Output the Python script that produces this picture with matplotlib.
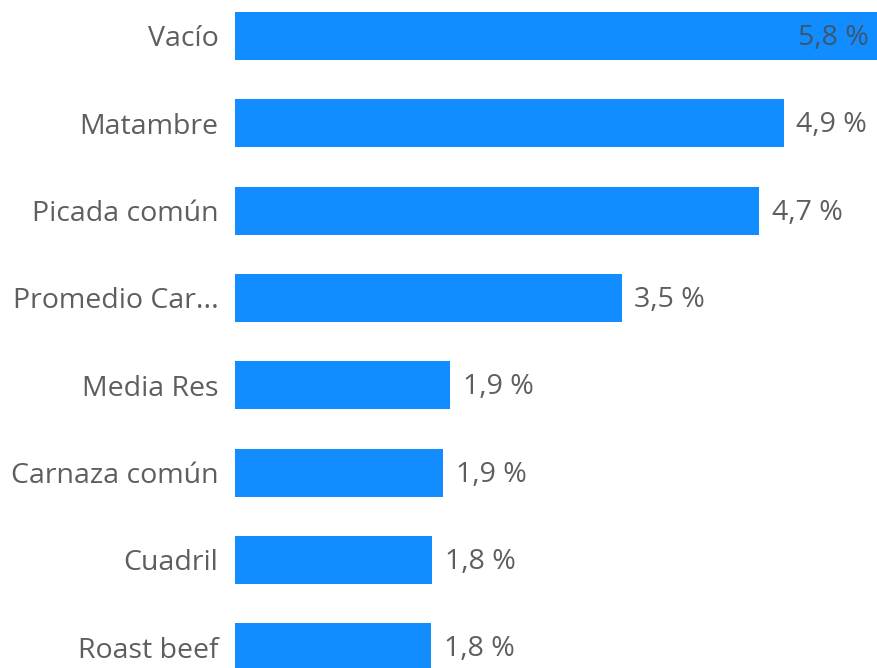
import matplotlib
matplotlib.use("Agg")
import matplotlib.pyplot as plt

categories = ["Vacío", "Matambre", "Picada común", "Promedio Car...", "Media Res",
              "Carnaza común", "Cuadril", "Roast beef"]
values = [5.80, 4.95, 4.73, 3.49, 1.94, 1.88, 1.78, 1.77]
labels = ["5,8 %", "4,9 %", "4,7 %", "3,5 %", "1,9 %", "1,9 %", "1,8 %", "1,8 %"]

plt.rcParams['font.family'] = ['Open Sans', 'DejaVu Sans']
W, H = 878, 668
fig = plt.figure(figsize=(W / 100, H / 100), dpi=100)
ax = fig.add_axes([235 / W, 0, 643 / W, 1])

bar_color = '#118DFF'
text_color = '#605E5C'
y = list(range(len(categories)))
ax.barh(y, values, height=0.55, color=bar_color)

ax.set_xlim(0, values[0])
ax.set_ylim(7.239, -0.412)
ax.set_yticks(y)
ax.set_yticklabels(categories, fontsize=20.5, color=text_color)
ax.tick_params(axis='y', length=0, pad=12)
ax.set_xticks([])
for s in ax.spines.values():
    s.set_visible(False)

for i, (v, lab) in enumerate(zip(values, labels)):
    if i == 0:
        ax.annotate(lab, (v, i), xytext=(-7, -1.5), textcoords='offset points',
                    ha='right', va='center', fontsize=20.5, color='#3E5570')
    else:
        ax.annotate(lab, (v, i), xytext=(9, -1.5), textcoords='offset points',
                    ha='left', va='center', fontsize=20.5, color=text_color,
                    annotation_clip=False)

fig.savefig("out.png", dpi=100)
